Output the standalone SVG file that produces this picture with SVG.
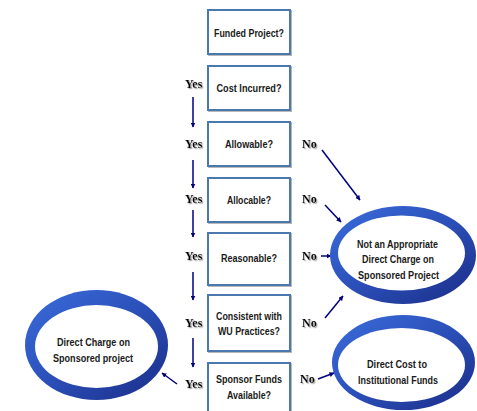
<svg xmlns="http://www.w3.org/2000/svg" width="477" height="411" viewBox="0 0 477 411">
<defs>
<style>
.box{fill:#ffffff;stroke:#4a79ae;stroke-width:2;filter:url(#bshadow)}
.bt{font-family:"Liberation Sans",Arial,sans-serif;font-weight:bold;font-size:11.5px;fill:#1a1a1a;text-anchor:middle}
.lb{font-family:"Liberation Serif","Times New Roman",serif;font-weight:bold;font-size:12px;fill:#000000;filter:url(#tshadow)}
.con{stroke:#000080;stroke-width:1.5;fill:none;marker-end:url(#ah)}
.ring{fill:url(#rg)}
.hole{fill:#ffffff}
</style>
<linearGradient id="rg" x1="0" y1="0" x2="1" y2="1">
<stop offset="0" stop-color="#3a6ddc"/>
<stop offset="0.5" stop-color="#2b4fb8"/>
<stop offset="1" stop-color="#1a2c86"/>
</linearGradient>
<marker id="ah" viewBox="0 0 10 10" refX="9" refY="5" markerWidth="5" markerHeight="5" orient="auto" markerUnits="userSpaceOnUse">
<path d="M0,0 L10,5 L0,10 z" fill="#000080"/>
</marker>
<filter id="bshadow" x="-10%" y="-10%" width="130%" height="130%">
<feDropShadow dx="1" dy="1" stdDeviation="0.6" flood-color="#888888" flood-opacity="0.6"/>
</filter>
<filter id="tshadow" x="-20%" y="-20%" width="150%" height="160%">
<feDropShadow dx="1.2" dy="1.2" stdDeviation="0.4" flood-color="#9a9a9a" flood-opacity="0.9"/>
</filter>
</defs>
<rect width="477" height="411" fill="#ffffff"/>

<g id="connectors">
<line class="con" x1="193" y1="97" x2="193" y2="127"/>
<line class="con" x1="193" y1="160" x2="193" y2="188"/>
<line class="con" x1="193" y1="210" x2="193" y2="237"/>
<line class="con" x1="193" y1="272" x2="193" y2="300"/>
<line class="con" x1="193" y1="338" x2="193" y2="367"/>
<line class="con" x1="322" y1="150" x2="360" y2="200"/>
<line class="con" x1="325" y1="205" x2="341" y2="222"/>
<line class="con" x1="321" y1="256" x2="331" y2="256"/>
<line class="con" x1="325" y1="318" x2="343" y2="296"/>
<line class="con" x1="318" y1="379" x2="334" y2="373"/>
<line class="con" x1="177" y1="384" x2="162" y2="373"/>
</g>

<g id="funded">
<rect class="box" x="208" y="10" width="82" height="44"/>
<text class="bt" x="249" y="37" textLength="70" lengthAdjust="spacingAndGlyphs">Funded Project?</text>
</g>
<g id="cost">
<rect class="box" x="208" y="66" width="82" height="44"/>
<text class="bt" x="249" y="92" textLength="65" lengthAdjust="spacingAndGlyphs">Cost Incurred?</text>
<text class="lb" x="185" y="88">Yes</text>
</g>
<g id="allowable">
<rect class="box" x="208" y="122" width="82" height="44"/>
<text class="bt" x="249" y="148" textLength="48" lengthAdjust="spacingAndGlyphs">Allowable?</text>
<text class="lb" x="185" y="148">Yes</text>
<text class="lb" x="302" y="148">No</text>
</g>
<g id="allocable">
<rect class="box" x="208" y="178" width="82" height="44"/>
<text class="bt" x="249" y="204" textLength="44" lengthAdjust="spacingAndGlyphs">Allocable?</text>
<text class="lb" x="185" y="203">Yes</text>
<text class="lb" x="302" y="203">No</text>
</g>
<g id="reasonable">
<rect class="box" x="208" y="233" width="82" height="52"/>
<text class="bt" x="249" y="262" textLength="56" lengthAdjust="spacingAndGlyphs">Reasonable?</text>
<text class="lb" x="185" y="260">Yes</text>
<text class="lb" x="302" y="260">No</text>
</g>
<g id="consistent">
<rect class="box" x="208" y="295" width="82" height="56"/>
<text class="bt" x="249" y="320" textLength="66" lengthAdjust="spacingAndGlyphs">Consistent with</text>
<text class="bt" x="249" y="335" textLength="62" lengthAdjust="spacingAndGlyphs">WU Practices?</text>
<text class="lb" x="185" y="327">Yes</text>
<text class="lb" x="302" y="327">No</text>
</g>
<g id="sponsor">
<rect class="box" x="208" y="363" width="82" height="56"/>
<text class="bt" x="249" y="383" textLength="66" lengthAdjust="spacingAndGlyphs">Sponsor Funds</text>
<text class="bt" x="249" y="399" textLength="44" lengthAdjust="spacingAndGlyphs">Available?</text>
<text class="lb" x="185" y="388">Yes</text>
<text class="lb" x="300" y="383">No</text>
</g>

<g id="not-appropriate">
<ellipse class="ring" cx="403" cy="255" rx="73" ry="49"/>
<ellipse class="hole" cx="401.5" cy="253" rx="63.5" ry="37.5"/>
<text class="bt" x="397.5" y="248" textLength="81" lengthAdjust="spacingAndGlyphs">Not an Appropriate</text>
<text class="bt" x="398" y="263" textLength="72" lengthAdjust="spacingAndGlyphs">Direct Charge on</text>
<text class="bt" x="398.5" y="279" textLength="81" lengthAdjust="spacingAndGlyphs">Sponsored Project</text>
</g>
<g id="direct-charge">
<ellipse class="ring" cx="96.5" cy="345" rx="71.5" ry="55"/>
<ellipse class="hole" cx="96.5" cy="346.5" rx="61.5" ry="41.5"/>
<text class="bt" x="93.5" y="346" textLength="73" lengthAdjust="spacingAndGlyphs">Direct Charge on</text>
<text class="bt" x="93" y="362" textLength="80" lengthAdjust="spacingAndGlyphs">Sponsored project</text>
</g>
<g id="direct-cost">
<ellipse class="ring" cx="403.5" cy="362.5" rx="71.5" ry="47.5"/>
<ellipse class="hole" cx="401.5" cy="365" rx="63.5" ry="37"/>
<text class="bt" x="397" y="368" textLength="60" lengthAdjust="spacingAndGlyphs">Direct Cost to</text>
<text class="bt" x="398" y="384" textLength="80" lengthAdjust="spacingAndGlyphs">Institutional Funds</text>
</g>
</svg>
